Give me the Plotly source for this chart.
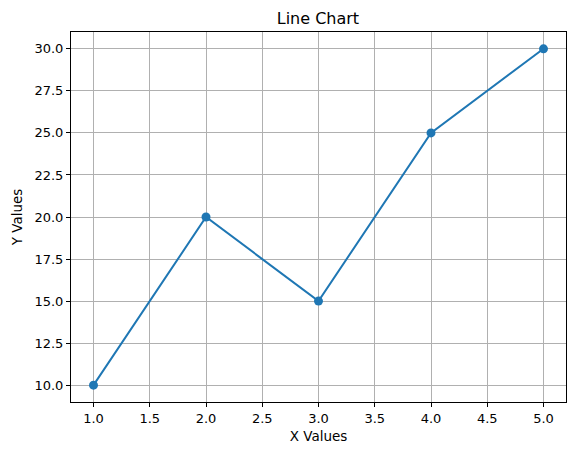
import plotly.graph_objects as go

x_values = [1, 2, 3, 4, 5]
y_values = [10, 20, 15, 25, 30]
x_ticks = [1.0, 1.5, 2.0, 2.5, 3.0, 3.5, 4.0, 4.5, 5.0]
y_ticks = [10.0, 12.5, 15.0, 17.5, 20.0, 22.5, 25.0, 27.5, 30.0]

fig = go.Figure()
fig.add_trace(go.Scatter(
    x=x_values, y=y_values, mode="lines+markers",
    line=dict(color="#1f77b4", width=2),
    marker=dict(color="#1f77b4", size=9),
    showlegend=False, cliponaxis=False,
))

font = "DejaVu Sans"
axis_common = dict(
    showline=True, linecolor="black", linewidth=1, mirror=True,
    ticks="outside", ticklen=4, tickwidth=1, tickcolor="black",
    showgrid=True, gridcolor="#b0b0b0", gridwidth=1,
    zeroline=False, automargin=False,
    tickfont=dict(family=font, size=13, color="black"),
)
fig.update_xaxes(
    range=[0.8, 5.2], tickvals=x_ticks,
    ticktext=[f"{v:.1f}" for v in x_ticks],
    title=dict(text="X Values", font=dict(family=font, size=13.5, color="black"), standoff=6),
    **axis_common,
)
fig.update_yaxes(
    range=[9, 31], tickvals=y_ticks,
    ticktext=[f"{v:.1f}" for v in y_ticks],
    title=dict(text="Y Values", font=dict(family=font, size=13.5, color="black"), standoff=8),
    **axis_common,
)
fig.update_layout(
    width=576, height=455,
    margin=dict(l=71, r=10, t=32, b=53, autoexpand=False),
    paper_bgcolor="white", plot_bgcolor="white",
    title=dict(text="Line Chart", x=0.552, xref="container", xanchor="center",
               y=1 - 18 / 455, yref="container", yanchor="middle",
               font=dict(family=font, size=16, color="black")),
)
fig.write_html(
    "out.html",
    config={"displayModeBar": False},
    post_script="document.body.style.margin='0';document.body.style.padding='0';",
)
